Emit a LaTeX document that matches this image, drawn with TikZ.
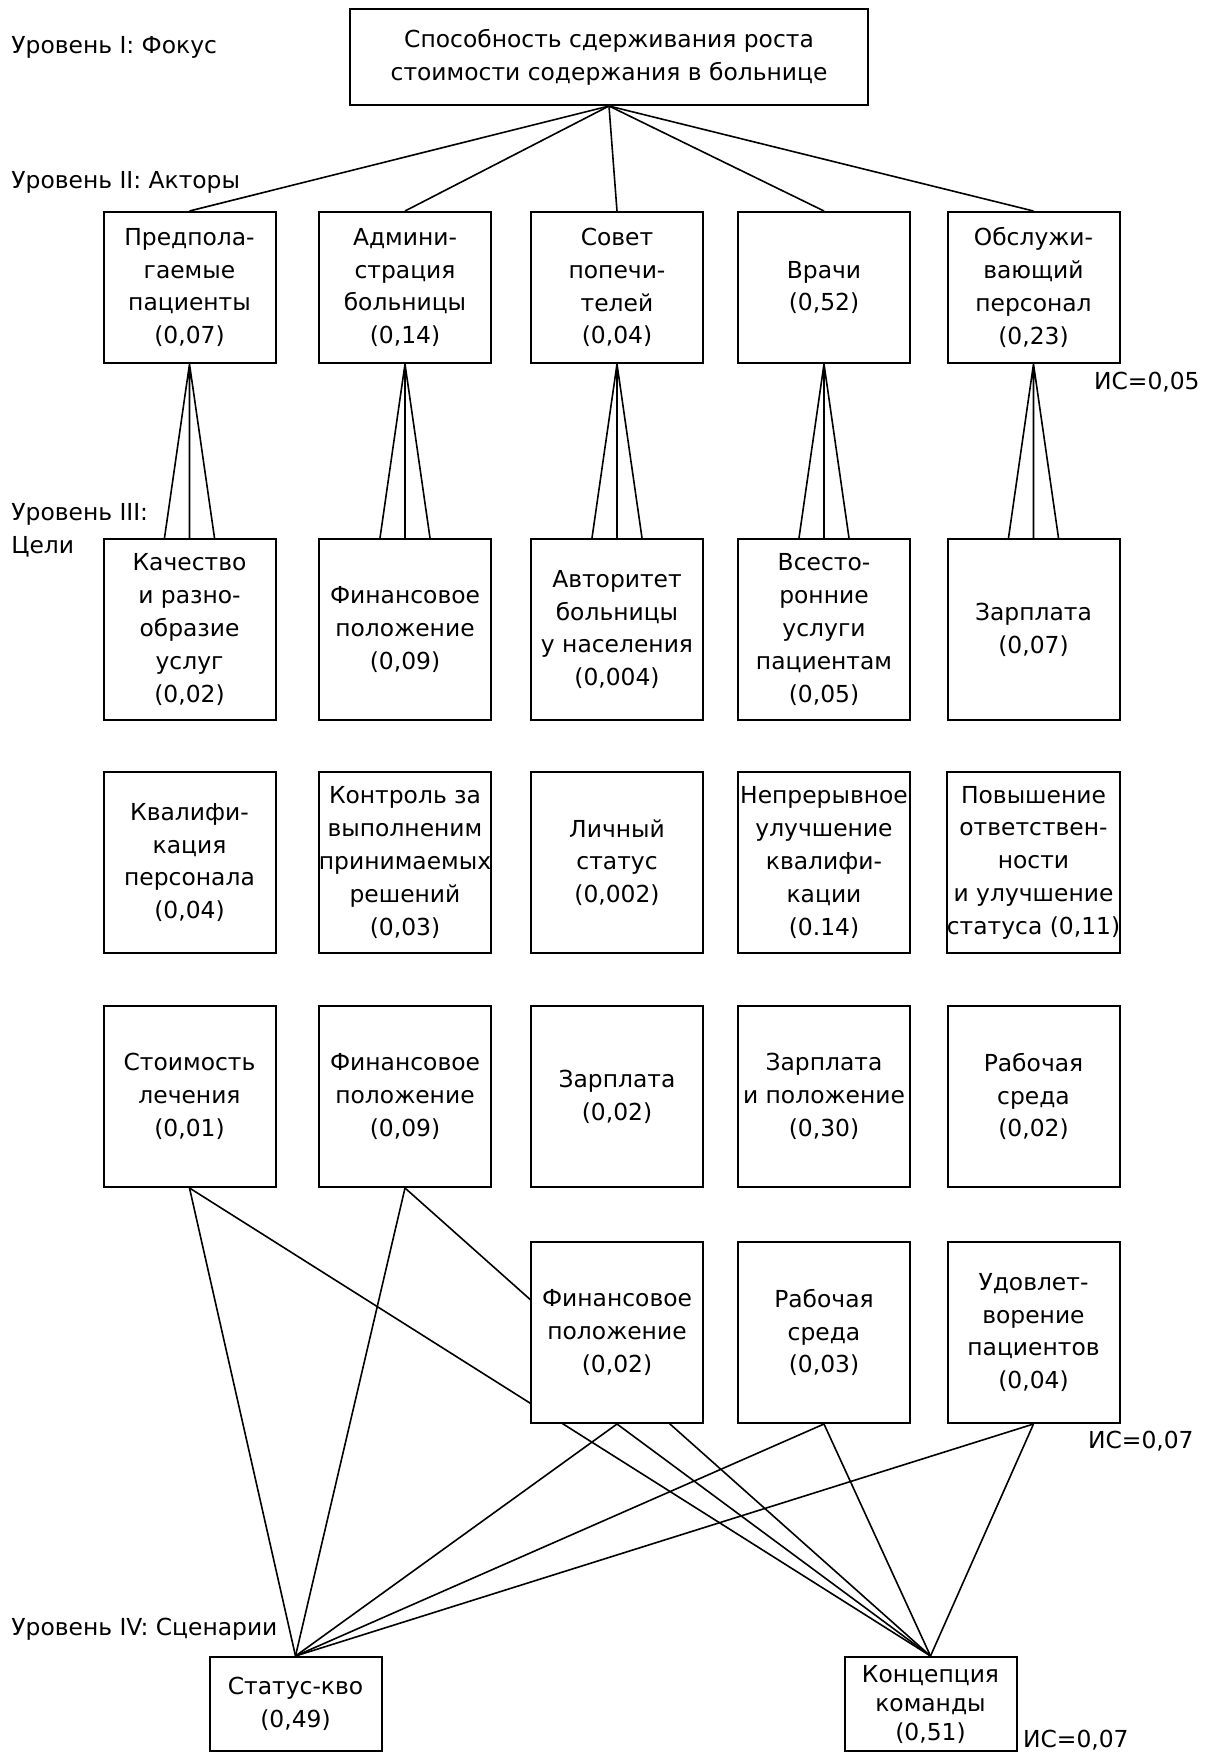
\documentclass[tikz,border=0pt]{standalone}
\usepackage{fontspec}
\setmainfont{DejaVu Sans}
\usetikzlibrary{backgrounds}

\tikzset{
  box/.style={draw, line width=1pt, fill=white, align=center, inner sep=0pt,
    minimum width=86pt, minimum height=90.5pt, font=\fontsize{11.7}{16.4}\selectfont},
  lvl/.style={anchor=west, inner sep=0pt, font=\fontsize{11.7}{16.4}\selectfont},
  ic/.style={anchor=east, inner sep=0pt, font=\fontsize{11.7}{16.4}\selectfont},
  link/.style={line width=0.8pt}
}

\begin{document}
\begin{tikzpicture}[x=0.5pt, y=-0.5pt]
    \useasboundingbox (0,0) rectangle (1212,1753);
    % levels
    \node[lvl] (L1) at (11,47) {Уровень I: Фокус};
    \node[lvl] (L2) at (11,182) {Уровень II: Акторы};
    \node[lvl, align=left] (L3) at (11,530) {Уровень III:\\Цели};
    \node[lvl] (L4) at (11,1629) {Уровень IV: Сценарии};
    %
    \node[box, minimum width=259pt, minimum height=48pt] (F) at (609,57) {Способность сдерживания роста\\стоимости содержания в больнице};
    %
    \node[box, minimum height=75.5pt] (A1) at (189.5,287.5) {Предпола-\\гаемые\\пациенты\\(0,07)};
    \node[box, minimum height=75.5pt] (A2) at (405,287.5) {Админи-\\страция\\больницы\\(0,14)};
    \node[box, minimum height=75.5pt] (A3) at (617,287.5) {Совет\\попечи-\\телей\\(0,04)};
    \node[box, minimum height=75.5pt] (A4) at (824,287.5) {Врачи\\(0,52)};
    \node[box, minimum height=75.5pt] (A5) at (1033.5,287.5) {Обслужи-\\вающий\\персонал\\(0,23)};
    \node[ic] (IC1) at (1200,382) {ИС=0,05};
    %
    \node[box] (G1) at (189.5,629.5) {Качество\\и разно-\\образие\\услуг\\(0,02)};
    \node[box] (G2) at (405,629.5) {Финансовое\\положение\\(0,09)};
    \node[box] (G3) at (617,629.5) {Авторитет\\больницы\\у населения\\(0,004)};
    \node[box] (G4) at (824,629.5) {Всесто-\\ронние\\услуги\\пациентам\\(0,05)};
    \node[box] (G5) at (1033.5,629.5) {Зарплата\\(0,07)};
    %
    \node[box] (K1) at (189.5,862.5) {Квалифи-\\кация\\персонала\\(0,04)};
    \node[box] (K2) at (405,862.5) {Контроль за\\выполненим\\принимаемых\\решений\\(0,03)};
    \node[box] (K3) at (617,862.5) {Личный\\статус\\(0,002)};
    \node[box] (K4) at (824,862.5) {Непрерывное\\улучшение\\квалифи-\\кации\\(0.14)};
    \node[box] (K5) at (1033.5,862.5) {Повышение\\ответствен-\\ности\\и улучшение\\статуса (0,11)};
    %
    \node[box] (S1) at (189.5,1096.5) {Стоимость\\лечения\\(0,01)};
    \node[box] (S2) at (405,1096.5) {Финансовое\\положение\\(0,09)};
    \node[box] (S3) at (617,1096.5) {Зарплата\\(0,02)};
    \node[box] (S4) at (824,1096.5) {Зарплата\\и положение\\(0,30)};
    \node[box] (S5) at (1033.5,1096.5) {Рабочая\\среда\\(0,02)};
    %
    \node[box] (R3) at (617,1332.5) {Финансовое\\положение\\(0,02)};
    \node[box] (R4) at (824,1332.5) {Рабочая\\среда\\(0,03)};
    \node[box] (R5) at (1033.5,1332.5) {Удовлет-\\ворение\\пациентов\\(0,04)};
    \node[ic] (IC2) at (1194,1441) {ИС=0,07};
    %
    \node[box, minimum height=47pt] (SQ) at (295.5,1704) {Статус-кво\\(0,49)};
    \node[box, minimum height=47pt, font=\fontsize{11.7}{14.5}\selectfont] (KK) at (930.5,1704) {Концепция\\команды\\(0,51)};
    \node[ic] (IC3) at (1129,1740) {ИС=0,07};
    %
    \begin{scope}[on background layer]
    \draw[link] (F.south) -- (A1.north);
    \draw[link] (F.south) -- (A2.north);
    \draw[link] (F.south) -- (A3.north);
    \draw[link] (F.south) -- (A4.north);
    \draw[link] (F.south) -- (A5.north);
    %
    \draw[link] ([xshift=-12.5pt]G1.north) -- (A1.south) -- ([xshift=12.5pt]G1.north) (A1.south) -- (G1.north);
    \draw[link] ([xshift=-12.5pt]G2.north) -- (A2.south) -- ([xshift=12.5pt]G2.north) (A2.south) -- (G2.north);
    \draw[link] ([xshift=-12.5pt]G3.north) -- (A3.south) -- ([xshift=12.5pt]G3.north) (A3.south) -- (G3.north);
    \draw[link] ([xshift=-12.5pt]G4.north) -- (A4.south) -- ([xshift=12.5pt]G4.north) (A4.south) -- (G4.north);
    \draw[link] ([xshift=-12.5pt]G5.north) -- (A5.south) -- ([xshift=12.5pt]G5.north) (A5.south) -- (G5.north);
    %
    \draw[link] (S1.south) -- (SQ.north);
    \draw[link] (S1.south) -- (KK.north);
    \draw[link] (S2.south) -- (SQ.north);
    \draw[link] (S2.south) -- (KK.north);
    \draw[link] (R3.south) -- (SQ.north);
    \draw[link] (R3.south) -- (KK.north);
    \draw[link] (R4.south) -- (SQ.north);
    \draw[link] (R4.south) -- (KK.north);
    \draw[link] (R5.south) -- (SQ.north);
    \draw[link] (R5.south) -- (KK.north);
    \end{scope}
\end{tikzpicture}
\end{document}
